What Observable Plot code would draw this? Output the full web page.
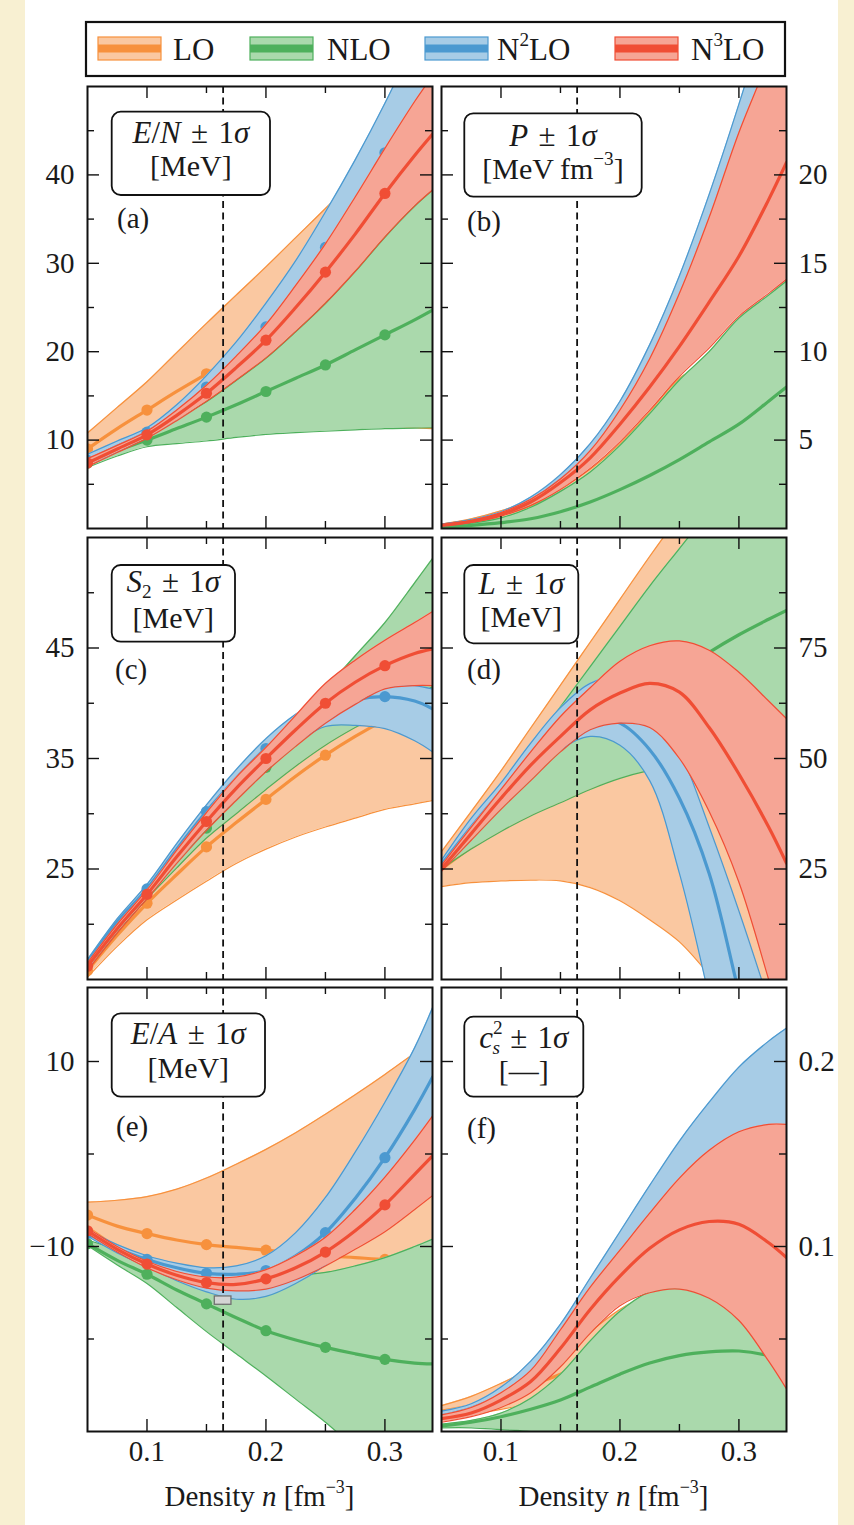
<!DOCTYPE html>
<html>
<head>
<meta charset="utf-8">
<script src="https://cdn.jsdelivr.net/npm/d3@7"></script>
<script src="https://cdn.jsdelivr.net/npm/@observablehq/plot@0.6"></script>
<style>
  html, body { margin: 0; padding: 0; background: #f8f0d2; }
  #page { position: relative; width: 854px; height: 1525px; overflow: hidden; background: #f8f0d2; }
  #sheet { position: absolute; left: 25px; top: 0; width: 813px; height: 1525px; background: #ffffff; }
  .pane { position: absolute; }
  .pane svg { overflow: visible; }
  text, tspan { white-space: pre; }
</style>
</head>
<body>
<div id="page"><div id="sheet"></div></div>
<script>
// ---------------- data ----------------
const nGrid = [0.05, 0.075, 0.1, 0.125, 0.15, 0.175, 0.2, 0.225, 0.25, 0.275, 0.3, 0.325, 0.34];
const dotDensities = [0.05, 0.1, 0.15, 0.2, 0.25, 0.3];
const n0 = [0.164];
const satDensity = [0.157, 0.171];
const satEnergy = [-16.3, -15.4];
const orders = ["LO", "NLO", "N2LO", "N3LO"];
const xMajor = [0.1, 0.2, 0.3];
const xMinor = [0.15, 0.25];

// (a) E/N [MeV]
const EN_LO_lo   = [8.0, 9.0, 9.8, 10.5, 11.0, 11.4, 11.7, 11.8, 11.8, 11.7, 11.6, 11.4, 11.3];
const EN_LO_mid  = [9.0, 11.3, 13.4, 15.5, 17.5, 19.6, 21.6, 23.6, 25.5, 27.3, 29.0, 30.6, 31.5];
const EN_LO_hi   = [10.8, 13.7, 16.6, 19.9, 23.2, 26.4, 29.6, 32.9, 36.2, 39.6, 43.0, 46.5, 48.7];
const EN_NLO_lo  = [6.9, 8.2, 9.25, 9.6, 9.9, 10.3, 10.65, 10.85, 11.0, 11.15, 11.3, 11.35, 11.4];
const EN_NLO_mid = [7.4, 8.8, 10.0, 11.3, 12.6, 14.0, 15.5, 17.0, 18.5, 20.2, 21.9, 23.6, 24.7];
const EN_NLO_hi  = [8.2, 9.6, 10.9, 12.5, 14.35, 16.75, 19.25, 22.25, 25.45, 29.05, 32.95, 36.45, 38.25];
const EN_N2LO_lo  = [7.2, 8.7, 10.4, 12.4, 14.8, 17.6, 20.8, 24.5, 28.8, 33.5, 38.5, 43.5, 46.5];
const EN_N2LO_mid = [7.7, 9.3, 10.9, 13.1, 16.0, 19.2, 22.8, 27.0, 31.8, 37.0, 42.5, 47.8, 51.0];
const EN_N2LO_hi  = [8.4, 9.9, 11.4, 14.0, 17.3, 21.1, 25.5, 30.3, 35.8, 41.7, 48.1, 55.1, 59.5];
const EN_N3LO_lo  = [7.0, 8.6, 10.2, 12.2, 14.4, 16.8, 19.3, 22.3, 25.5, 29.1, 33.0, 36.5, 38.3];
const EN_N3LO_mid = [7.4, 9.0, 10.6, 12.8, 15.3, 18.2, 21.3, 25.0, 29.0, 33.3, 37.9, 42.2, 44.6];
const EN_N3LO_hi  = [7.9, 9.4, 11.0, 13.4, 16.2, 19.5, 23.1, 27.5, 32.2, 37.5, 43.0, 48.3, 51.2];

// (b) P [MeV fm^-3]
const P_LO_lo   = [0.15, 0.35, 0.6, 0.95, 1.3, 1.6, 1.9, 2.0, 1.9, 1.6, 1.2, 0.7, 0.4];
const P_LO_mid  = [0.2, 0.45, 0.8, 1.3, 1.9, 2.5, 3.1, 3.8, 4.4, 5.0, 5.5, 5.9, 6.1];
const P_LO_hi   = [0.25, 0.55, 1.0, 1.6, 2.3, 3.35, 4.8, 6.6, 8.5, 9.5, 11.0, 12.6, 13.6];
const P_NLO_lo  = [0.02, 0.02, 0.0, -0.1, -0.3, -0.5, -0.8, -1.2, -1.7, -2.3, -3.0, -3.8, -4.3];
const P_NLO_mid = [0.08, 0.18, 0.33, 0.55, 0.95, 1.5, 2.2, 3.0, 3.9, 4.9, 5.9, 7.2, 8.0];
const P_NLO_hi  = [0.12, 0.3, 0.6, 1.2, 2.1, 3.2, 4.7, 6.5, 8.4, 10.0, 11.9, 13.2, 14.0];
const P_N2LO_lo  = [0.17, 0.38, 0.76, 1.42, 2.5, 3.9, 6.0, 8.7, 12.0, 16.0, 20.5, 24.5, 27.5];
const P_N2LO_mid = [0.19, 0.43, 0.86, 1.6, 2.75, 4.3, 6.55, 9.4, 13.0, 17.2, 22.0, 26.2, 29.2];
const P_N2LO_hi  = [0.22, 0.5, 0.95, 1.78, 3.05, 4.8, 7.2, 10.4, 14.3, 18.9, 24.0, 29.5, 33.0];
const P_N3LO_lo  = [0.16, 0.35, 0.7, 1.3, 2.2, 3.4, 4.9, 6.7, 8.6, 10.2, 12.0, 13.3, 14.1];
const P_N3LO_mid = [0.18, 0.4, 0.8, 1.5, 2.6, 4.0, 5.9, 8.0, 10.3, 12.8, 15.4, 18.6, 20.7];
const P_N3LO_hi  = [0.2, 0.45, 0.9, 1.65, 2.8, 4.4, 6.7, 9.6, 13.3, 17.6, 22.4, 26.6, 29.6];

// (c) S2 [MeV]
const S2_LO_lo   = [15.2, 18.0, 20.4, 22.2, 23.9, 25.5, 26.8, 27.9, 28.8, 29.6, 30.4, 30.9, 31.2];
const S2_LO_mid  = [15.8, 19.0, 21.9, 24.5, 27.0, 29.2, 31.3, 33.4, 35.3, 37.0, 38.5, 39.8, 40.5];
const S2_LO_hi   = [16.3, 19.8, 23.0, 26.0, 28.8, 31.4, 34.0, 36.4, 38.6, 40.6, 42.3, 43.5, 44.0];
const S2_NLO_lo  = [16.0, 19.3, 22.3, 25.1, 27.8, 30.0, 32.2, 34.3, 36.2, 37.8, 39.2, 40.6, 41.5];
const S2_NLO_mid = [16.4, 19.8, 22.9, 25.9, 28.7, 31.5, 34.2, 36.9, 39.5, 42.0, 44.4, 46.6, 48.0];
const S2_NLO_hi  = [16.8, 20.1, 23.3, 26.4, 29.5, 32.5, 35.5, 38.4, 41.3, 44.3, 47.3, 50.9, 53.1];
const S2_N2LO_lo  = [16.2, 19.8, 22.9, 26.3, 29.7, 32.3, 34.5, 36.4, 37.9, 38.0, 37.7, 36.6, 35.6];
const S2_N2LO_mid = [16.5, 20.2, 23.2, 26.8, 30.2, 33.2, 35.9, 37.8, 39.3, 40.3, 40.6, 40.2, 39.5];
const S2_N2LO_hi  = [16.8, 20.5, 23.6, 27.3, 30.8, 34.0, 36.8, 39.0, 40.6, 41.5, 41.8, 41.6, 41.3];
const S2_N3LO_lo  = [15.8, 19.2, 22.3, 25.5, 28.5, 31.2, 33.8, 36.1, 38.2, 39.9, 41.3, 41.6, 41.6];
const S2_N3LO_mid = [16.2, 19.6, 22.7, 26.1, 29.3, 32.3, 35.0, 37.6, 40.0, 41.9, 43.4, 44.5, 44.9];
const S2_N3LO_hi  = [16.5, 20.0, 23.1, 26.7, 30.1, 33.3, 36.0, 38.9, 41.8, 43.9, 45.7, 47.3, 48.3];

// (d) L [MeV]
const L_LO_lo   = [21.0, 21.9, 22.3, 22.5, 22.3, 20.8, 17.8, 13.5, 8.5, 1.0, -8.0, -19.0, -26.0];
const L_LO_mid  = [25.0, 30.0, 35.0, 40.0, 45.0, 49.0, 53.0, 57.0, 60.0, 63.0, 66.0, 68.0, 69.0];
const L_LO_hi   = [28.9, 38.0, 47.2, 56.9, 66.6, 76.3, 86.0, 95.7, 105.0, 114.0, 123.0, 132.0, 137.0];
const L_NLO_lo  = [25.0, 29.5, 33.5, 37.0, 40.0, 43.0, 45.5, 47.3, 48.5, 49.5, 50.2, 50.7, 51.0];
const L_NLO_mid = [25.5, 33.5, 41.0, 47.5, 53.0, 57.5, 61.5, 65.5, 69.5, 74.0, 78.0, 81.5, 83.5];
const L_NLO_hi  = [26.3, 34.9, 43.5, 52.6, 61.7, 70.8, 79.9, 89.0, 97.5, 106.0, 115.0, 123.0, 128.0];
const L_N2LO_lo  = [25.0, 32.5, 40.0, 46.5, 52.0, 55.0, 53.0, 45.0, 24.0, -4.0, -35.0, -65.0, -85.0];
const L_N2LO_mid = [26.0, 34.5, 42.5, 50.0, 56.0, 59.0, 58.0, 52.0, 41.0, 24.0, -3.0, -30.0, -45.0];
const L_N2LO_hi  = [27.0, 36.5, 44.5, 53.5, 61.5, 67.0, 68.5, 64.0, 52.0, 34.5, 15.5, -5.0, -18.0];
const L_N3LO_lo  = [24.5, 31.5, 38.5, 45.0, 51.5, 56.5, 58.0, 57.0, 50.0, 38.0, 22.0, 0.0, -14.0];
const L_N3LO_mid = [25.0, 33.0, 41.0, 48.5, 55.0, 61.0, 64.8, 67.0, 65.0, 57.0, 46.5, 34.5, 26.3];
const L_N3LO_hi  = [25.8, 34.5, 43.0, 51.5, 59.5, 66.0, 72.0, 75.5, 76.6, 74.5, 69.5, 63.0, 59.0];

// (e) E/A [MeV]
const EA_LO_lo   = [-7.8, -10.0, -12.0, -13.6, -15.0, -16.3, -17.5, -18.8, -20.0, -21.0, -22.0, -23.0, -23.5];
const EA_LO_mid  = [-6.6, -7.8, -8.6, -9.3, -9.8, -10.1, -10.4, -10.7, -11.0, -11.2, -11.4, -11.5, -11.6];
const EA_LO_hi   = [-5.2, -5.0, -4.6, -3.8, -2.6, -1.1, 0.5, 2.3, 4.3, 6.4, 8.6, 10.9, 12.3];
const EA_NLO_lo  = [-9.9, -12.0, -14.0, -16.6, -19.2, -21.6, -24.0, -26.5, -29.0, -31.8, -34.5, -37.0, -39.0];
const EA_NLO_mid = [-9.7, -11.5, -13.0, -14.7, -16.2, -17.7, -19.1, -20.1, -20.9, -21.6, -22.2, -22.6, -22.7];
const EA_NLO_hi  = [-9.3, -10.3, -11.2, -12.0, -12.6, -13.0, -13.2, -13.1, -12.8, -12.1, -11.2, -10.0, -9.2];
const EA_N2LO_lo  = [-8.9, -10.7, -12.2, -13.7, -14.9, -15.7, -15.4, -14.0, -12.0, -9.0, -5.3, -1.0, 1.5];
const EA_N2LO_mid = [-8.6, -10.2, -11.4, -12.3, -12.9, -13.0, -12.6, -11.0, -8.5, -4.8, -0.4, 4.8, 8.3];
const EA_N2LO_hi  = [-8.2, -9.8, -11.0, -11.8, -12.3, -12.1, -11.0, -8.5, -4.7, 0.2, 5.6, 11.5, 15.8];
const EA_N3LO_lo  = [-8.6, -10.6, -12.3, -13.6, -14.5, -14.8, -14.6, -13.6, -12.1, -10.3, -8.4, -6.0, -4.5];
const EA_N3LO_mid = [-8.3, -10.3, -11.9, -13.1, -13.9, -14.1, -13.5, -12.3, -10.6, -8.3, -5.5, -2.2, -0.2];
const EA_N3LO_hi  = [-8.0, -10.0, -11.6, -12.7, -13.3, -13.3, -12.5, -11.0, -9.0, -6.0, -2.5, 1.5, 4.1];

// (f) c_s^2 [-]
const CS_LO_lo   = [0.008, 0.009, 0.012, 0.015, 0.018, 0.021, 0.024, 0.026, 0.028, 0.029, 0.030, 0.030, 0.030];
const CS_LO_mid  = [0.011, 0.014, 0.019, 0.025, 0.031, 0.038, 0.045, 0.050, 0.054, 0.057, 0.059, 0.060, 0.060];
const CS_LO_hi   = [0.014, 0.019, 0.026, 0.034, 0.043, 0.054, 0.066, 0.074, 0.079, 0.082, 0.084, 0.085, 0.085];
const CS_NLO_lo  = [0.002, 0.002, 0.001, 0.0, -0.002, -0.005, -0.010, -0.015, -0.020, -0.025, -0.030, -0.035, -0.040];
const CS_NLO_mid = [0.003, 0.005, 0.008, 0.012, 0.017, 0.024, 0.031, 0.037, 0.041, 0.043, 0.0435, 0.041, 0.038];
const CS_NLO_hi  = [0.004, 0.006, 0.010, 0.018, 0.031, 0.049, 0.065, 0.076, 0.083, 0.088, 0.090, 0.090, 0.090];
const CS_N2LO_lo  = [0.007, 0.011, 0.018, 0.028, 0.047, 0.068, 0.088, 0.107, 0.125, 0.139, 0.148, 0.153, 0.155];
const CS_N2LO_mid = [0.0085, 0.0125, 0.020, 0.032, 0.053, 0.076, 0.096, 0.116, 0.135, 0.150, 0.160, 0.164, 0.164];
const CS_N2LO_hi  = [0.011, 0.015, 0.024, 0.038, 0.058, 0.083, 0.108, 0.133, 0.157, 0.178, 0.197, 0.211, 0.218];
const CS_N3LO_lo  = [0.005, 0.008, 0.013, 0.021, 0.035, 0.053, 0.068, 0.075, 0.077, 0.072, 0.060, 0.038, 0.023];
const CS_N3LO_mid = [0.007, 0.010, 0.017, 0.027, 0.045, 0.066, 0.084, 0.099, 0.109, 0.1135, 0.112, 0.102, 0.094];
const CS_N3LO_hi  = [0.009, 0.013, 0.021, 0.033, 0.055, 0.078, 0.098, 0.118, 0.137, 0.152, 0.162, 0.166, 0.166];

// ---------------- style ----------------
const dark  = {LO: "#f7913d", NLO: "#4eb05c", N2LO: "#4b99d0", N3LO: "#f04e35"};
const light = {LO: "#fac8a1", NLO: "#aad9ac", N2LO: "#a7cce6", N3LO: "#f6a595"};
const FONT = "'Liberation Serif', 'Times New Roman', serif";
const FS = 31;
const TXT = "#1a1a1a";
const PM = " \u200a\u00b1\u200a 1";

const cols = [
  {left: 0,   width: 437, ml: 87, mr: 5,  side: "left"},
  {left: 437, width: 417, ml: 4,  mr: 68, side: "right"}
];
const rowsL = [
  {top: 80,  height: 456, mt: 6, mb: 8},
  {top: 530, height: 456, mt: 7, mb: 7},
  {top: 981, height: 544, mt: 6, mb: 94}
];

const fmtInt = d => d < 0 ? "\u2212" + Math.abs(d) : String(d);
const fmt1 = d => d.toFixed(1);

const panels = [
  {col: 0, row: 0, yDomain: [0, 50], yMajor: [10, 20, 30, 40], yMinor: [5, 15, 25, 35, 45], fmt: fmtInt, dots: true,
   series: {LO: [EN_LO_lo, EN_LO_mid, EN_LO_hi], NLO: [EN_NLO_lo, EN_NLO_mid, EN_NLO_hi], N2LO: [EN_N2LO_lo, EN_N2LO_mid, EN_N2LO_hi], N3LO: [EN_N3LO_lo, EN_N3LO_mid, EN_N3LO_hi]},
   box: {dx: 24.7, dy: 25.7, w: 158.3, h: 83.3, cx: 79.2, b1: 57.3, b2: 90.3,
         l1: [{t: "E", i: 1}, {t: "/"}, {t: "N", i: 1}, {t: PM}, {t: "\u03c3", i: 1}],
         l2: [{t: "[MeV]"}]},
   tag: {t: "(a)", dx: 30, dy: 142}},
  {col: 1, row: 0, yDomain: [0, 25], yMajor: [5, 10, 15, 20], yMinor: [2.5, 7.5, 12.5, 17.5, 22.5], fmt: fmtInt, dots: false,
   series: {LO: [P_LO_lo, P_LO_mid, P_LO_hi], NLO: [P_NLO_lo, P_NLO_mid, P_NLO_hi], N2LO: [P_N2LO_lo, P_N2LO_mid, P_N2LO_hi], N3LO: [P_N3LO_lo, P_N3LO_mid, P_N3LO_hi]},
   box: {dx: 23.3, dy: 27.3, w: 177.4, h: 83.4, cx: 88.7, b1: 59.5, b2: 92.5,
         l1: [{t: "P", i: 1}, {t: PM}, {t: "\u03c3", i: 1}],
         l2: [{t: "[MeV\u2009fm"}, {t: "\u22123", sup: 1}, {t: "]"}]},
   tag: {t: "(b)", dx: 26, dy: 145}},
  {col: 0, row: 1, yDomain: [15, 55], yMajor: [25, 35, 45], yMinor: [20, 30, 40, 50], fmt: fmtInt, dots: true,
   series: {LO: [S2_LO_lo, S2_LO_mid, S2_LO_hi], NLO: [S2_NLO_lo, S2_NLO_mid, S2_NLO_hi], N2LO: [S2_N2LO_lo, S2_N2LO_mid, S2_N2LO_hi], N3LO: [S2_N3LO_lo, S2_N3LO_mid, S2_N3LO_hi]},
   box: {dx: 24.7, dy: 28, w: 123.3, h: 76.7, cx: 61.6, b1: 55, b2: 91,
         l1: [{t: "S", i: 1}, {t: "2", sub: 1}, {t: PM}, {t: "\u03c3", i: 1}],
         l2: [{t: "[MeV]"}]},
   tag: {t: "(c)", dx: 28, dy: 142}},
  {col: 1, row: 1, yDomain: [0, 100], yMajor: [25, 50, 75], yMinor: [12.5, 37.5, 62.5, 87.5], fmt: fmtInt, dots: false,
   series: {LO: [L_LO_lo, L_LO_mid, L_LO_hi], NLO: [L_NLO_lo, L_NLO_mid, L_NLO_hi], N2LO: [L_N2LO_lo, L_N2LO_mid, L_N2LO_hi], N3LO: [L_N3LO_lo, L_N3LO_mid, L_N3LO_hi]},
   box: {dx: 23.3, dy: 28, w: 114, h: 78.3, cx: 57, b1: 56.5, b2: 89.5,
         l1: [{t: "L", i: 1}, {t: PM}, {t: "\u03c3", i: 1}],
         l2: [{t: "[MeV]"}]},
   tag: {t: "(d)", dx: 26, dy: 142}},
  {col: 0, row: 2, yDomain: [-30, 18], yMajor: [-10, 10], yMinor: [-20, 0], fmt: fmtInt, dots: true, sat: true,
   series: {LO: [EA_LO_lo, EA_LO_mid, EA_LO_hi], NLO: [EA_NLO_lo, EA_NLO_mid, EA_NLO_hi], N2LO: [EA_N2LO_lo, EA_N2LO_mid, EA_N2LO_hi], N3LO: [EA_N3LO_lo, EA_N3LO_mid, EA_N3LO_hi]},
   box: {dx: 24.7, dy: 26.3, w: 153.3, h: 83.4, cx: 76.6, b1: 57, b2: 90.5,
         l1: [{t: "E", i: 1}, {t: "/"}, {t: "A", i: 1}, {t: PM}, {t: "\u03c3", i: 1}],
         l2: [{t: "[MeV]"}]},
   tag: {t: "(e)", dx: 29, dy: 148.5}},
  {col: 1, row: 2, yDomain: [0, 0.24], yMajor: [0.1, 0.2], yMinor: [0.05, 0.15], fmt: fmt1, dots: false,
   series: {LO: [CS_LO_lo, CS_LO_mid, CS_LO_hi], NLO: [CS_NLO_lo, CS_NLO_mid, CS_NLO_hi], N2LO: [CS_N2LO_lo, CS_N2LO_mid, CS_N2LO_hi], N3LO: [CS_N3LO_lo, CS_N3LO_mid, CS_N3LO_hi]},
   box: {dx: 23.3, dy: 29.7, w: 119, h: 80, cx: 59.5, b1: 61, b2: 94.3,
         l1: [{t: "c", i: 1}, {t: "2", sup: 1}, {t: "s", i: 1, sub: 1, back: 0.33}, {t: PM}, {t: "\u03c3", i: 1}],
         l2: [{t: "[\u2014]"}]},
   tag: {t: "(f)", dx: 26, dy: 150.5}}
];

// ---------------- helpers ----------------
// parts: [{t, i, sup, sub, back}] ; a part {nl: gap} starts a new centred line gap px lower
function rich(g, x, y, parts, fs, anchor = "middle") {
  const t = g.append("text")
    .attr("x", x).attr("y", y)
    .attr("text-anchor", anchor)
    .attr("font-family", FONT)
    .attr("font-size", fs)
    .attr("fill", TXT)
    .style("white-space", "pre");
  let shift = 0, pendingLine = 0;
  for (const p of parts) {
    if (p.nl) { pendingLine = p.nl; continue; }
    const ts = t.append("tspan").text(p.t);
    let target = 0, size = p.fs || fs;
    if (p.sup) { target = -0.45 * fs; size = 0.62 * fs; }
    if (p.sub) { target = 0.18 * fs; size = 0.62 * fs; }
    if (p.i) ts.attr("font-style", "italic");
    ts.attr("font-size", size);
    if (p.back) ts.attr("dx", -p.back * fs);
    if (pendingLine) {
      ts.attr("x", x).attr("dy", pendingLine + target - shift);
      shift = target; pendingLine = 0;
    } else if (target !== shift) {
      ts.attr("dy", target - shift); shift = target;
    }
  }
  return t;
}

function rowsOf(lo, mid, hi) {
  return nGrid.map((n, i) => ({n, lo: lo[i], mid: mid[i], hi: hi[i]}));
}

const sheetPage = document.getElementById("page");

// ---------------- panels ----------------
for (const cfg of panels) {
  const C = cols[cfg.col], R = rowsL[cfg.row];
  const fw = C.width - C.ml - C.mr;
  const fh = R.height - R.mt - R.mb;
  const curve = "catmull-rom";
  const marks = [];
  for (const k of orders) {
    const [lo, mid, hi] = cfg.series[k];
    const rows = rowsOf(lo, mid, hi);
    marks.push(Plot.areaY(rows, {x: "n", y1: "lo", y2: "hi", fill: light[k], curve, clip: true}));
    marks.push(Plot.line(rows, {x: "n", y: "lo", stroke: dark[k], strokeWidth: 1.2, curve, clip: true}));
    marks.push(Plot.line(rows, {x: "n", y: "hi", stroke: dark[k], strokeWidth: 1.2, curve, clip: true}));
    marks.push(Plot.line(rows, {x: "n", y: "mid", stroke: dark[k], strokeWidth: 3.2, curve, clip: true}));
    if (cfg.dots) {
      const pts = rows.filter(r => dotDensities.some(v => Math.abs(v - r.n) < 1e-9));
      marks.push(Plot.dot(pts, {x: "n", y: "mid", r: 5.6, fill: dark[k], clip: true}));
    }
  }
  marks.push(Plot.ruleX(n0, {stroke: "#111", strokeWidth: 1.8, strokeDasharray: "7,4.5"}));
  if (cfg.sat) {
    marks.push(Plot.rect([{x1: satDensity[0], x2: satDensity[1], y1: satEnergy[0], y2: satEnergy[1]}],
      {x1: "x1", x2: "x2", y1: "y1", y2: "y2", fill: "#d4d4d4", stroke: "#707070", strokeWidth: 1.3}));
  }
  // inward ticks
  const yMaj = 12, yMin = 7, xMaj = 12, xMin = 7;
  marks.push(Plot.tickY(cfg.yMajor, {y: d => d, stroke: "#111", strokeWidth: 1.4, insetRight: fw - yMaj}));
  marks.push(Plot.tickY(cfg.yMajor, {y: d => d, stroke: "#111", strokeWidth: 1.4, insetLeft: fw - yMaj}));
  marks.push(Plot.tickY(cfg.yMinor, {y: d => d, stroke: "#111", strokeWidth: 1.4, insetRight: fw - yMin}));
  marks.push(Plot.tickY(cfg.yMinor, {y: d => d, stroke: "#111", strokeWidth: 1.4, insetLeft: fw - yMin}));
  marks.push(Plot.tickX(xMajor, {x: d => d, stroke: "#111", strokeWidth: 1.4, insetBottom: fh - xMaj}));
  marks.push(Plot.tickX(xMajor, {x: d => d, stroke: "#111", strokeWidth: 1.4, insetTop: fh - xMaj}));
  marks.push(Plot.tickX(xMinor, {x: d => d, stroke: "#111", strokeWidth: 1.4, insetBottom: fh - xMin}));
  marks.push(Plot.tickX(xMinor, {x: d => d, stroke: "#111", strokeWidth: 1.4, insetTop: fh - xMin}));
  marks.push(Plot.frame({stroke: "#111", strokeWidth: 2}));
  marks.push(Plot.axisY({anchor: C.side, ticks: cfg.yMajor, tickFormat: cfg.fmt, tickSize: 0, label: null,
    tickPadding: C.side === "left" ? 13 : 12, fontSize: 29, fill: TXT}));
  const bottom = cfg.row === 2;
  if (bottom) {
    marks.push(Plot.axisX({anchor: "bottom", ticks: xMajor, tickFormat: fmt1, tickSize: 0, tickPadding: 9, label: null, fontSize: 29, fill: TXT}));
  }
  const svg = Plot.plot({
    width: C.width, height: R.height,
    marginLeft: C.ml, marginRight: C.mr, marginTop: R.mt, marginBottom: R.mb,
    x: bottom ? {domain: [0.05, 0.34], label: null} : {domain: [0.05, 0.34], axis: null},
    y: {domain: cfg.yDomain, label: null},
    style: {fontFamily: FONT, fontSize: "29px", background: "transparent", overflow: "visible", color: TXT},
    marks
  });
  const g = d3.select(svg).append("g");
  const b = cfg.box;
  g.append("rect")
    .attr("x", C.ml + b.dx).attr("y", R.mt + b.dy)
    .attr("width", b.w).attr("height", b.h)
    .attr("rx", 9).attr("ry", 9)
    .attr("fill", "#fff").attr("stroke", "#111").attr("stroke-width", 1.8);
  rich(g, C.ml + b.dx + b.cx, R.mt + b.b1, [...b.l1, {nl: b.b2 - b.b1}, ...b.l2.map(p => ({fs: 30, ...p}))], FS);
  rich(g, C.ml + cfg.tag.dx, R.mt + cfg.tag.dy, [{t: cfg.tag.t}], 29, "start");
  if (bottom) {
    rich(g, C.ml + fw / 2, R.mt + fh + 75,
      [{t: "Density "}, {t: "n", i: 1}, {t: " [fm"}, {t: "\u22123", sup: 1}, {t: "]"}], 29);
  }
  const div = document.createElement("div");
  div.className = "pane";
  div.style.left = C.left + "px";
  div.style.top = R.top + "px";
  div.style.width = C.width + "px";
  div.style.height = R.height + "px";
  div.appendChild(svg);
  sheetPage.appendChild(div);
}

// ---------------- legend ----------------
const legendItems = [
  {k: "LO",   sx: 98,  tx: 173, parts: [{t: "LO"}]},
  {k: "NLO",  sx: 250, tx: 327, parts: [{t: "NLO"}]},
  {k: "N2LO", sx: 425, tx: 497, parts: [{t: "N"}, {t: "2", sup: 1}, {t: "LO"}]},
  {k: "N3LO", sx: 615, tx: 691, parts: [{t: "N"}, {t: "3", sup: 1}, {t: "LO"}]}
];
const leg = d3.select("#page").append("svg")
  .attr("width", 854).attr("height", 82)
  .style("position", "absolute").style("left", "0px").style("top", "0px").style("overflow", "visible");
leg.append("rect").attr("x", 86).attr("y", 22).attr("width", 699).attr("height", 54)
  .attr("fill", "#fff").attr("stroke", "#111").attr("stroke-width", 2.2);
for (const it of legendItems) {
  leg.append("rect").attr("x", it.sx).attr("y", 37).attr("width", 63).attr("height", 23)
    .attr("fill", light[it.k]).attr("stroke", dark[it.k]).attr("stroke-width", 1.2);
  leg.append("rect").attr("x", it.sx).attr("y", 44.5).attr("width", 63).attr("height", 8)
    .attr("fill", dark[it.k]);
  rich(leg, it.tx, 60, it.parts, 31, "start");
}
</script>
</body>
</html>
